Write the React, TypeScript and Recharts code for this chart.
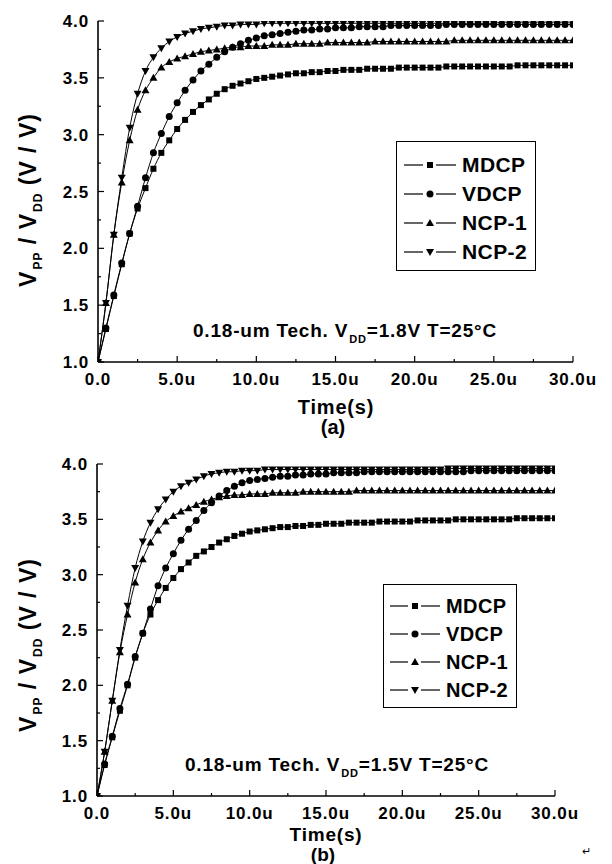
import { LineChart, Line, XAxis, YAxis, Legend } from "recharts";

// time axis, microseconds
const time = [
  0, 0.5, 1, 1.5, 2, 2.5, 3, 3.5, 4, 4.5, 5, 5.5, 6, 6.5, 7, 7.5, 8, 8.5, 9, 9.5, 10,
  10.5, 11, 11.5, 12, 12.5, 13, 13.5, 14, 14.5, 15, 15.5, 16, 16.5, 17, 17.5, 18, 18.5, 19, 19.5, 20,
  20.5, 21, 21.5, 22, 22.5, 23, 23.5, 24, 24.5, 25, 25.5, 26, 26.5, 27, 27.5, 28, 28.5, 29, 29.5, 30,
];

// (a) VDD = 1.8V
const mdcpA = [
  1.0, 1.29, 1.58, 1.86, 2.13, 2.35, 2.53, 2.7, 2.84, 2.95, 3.05, 3.13, 3.2, 3.26, 3.31, 3.36, 3.4, 3.43, 3.45, 3.47, 3.49,
  3.5, 3.51, 3.52, 3.53, 3.54, 3.54, 3.55, 3.55, 3.56, 3.56, 3.57, 3.57, 3.57, 3.58, 3.58, 3.58, 3.58, 3.59, 3.59, 3.59,
  3.59, 3.59, 3.59, 3.6, 3.6, 3.6, 3.6, 3.6, 3.6, 3.6, 3.6, 3.6, 3.61, 3.61, 3.61, 3.61, 3.61, 3.61, 3.61, 3.61,
];
const vdcpA = [
  1.0, 1.3, 1.59, 1.87, 2.13, 2.37, 2.62, 2.84, 3.01, 3.16, 3.28, 3.39, 3.48, 3.56, 3.62, 3.68, 3.73, 3.77, 3.8, 3.83, 3.85,
  3.87, 3.88, 3.89, 3.9, 3.91, 3.92, 3.92, 3.93, 3.93, 3.94, 3.94, 3.94, 3.95, 3.95, 3.95, 3.95, 3.96, 3.96, 3.96, 3.96,
  3.96, 3.96, 3.96, 3.97, 3.97, 3.97, 3.97, 3.97, 3.97, 3.97, 3.97, 3.97, 3.97, 3.97, 3.97, 3.97, 3.97, 3.97, 3.97, 3.97,
];
const ncp1A = [
  1.0, 1.52, 2.12, 2.58, 2.95, 3.22, 3.39, 3.5, 3.59, 3.64, 3.67, 3.69, 3.71, 3.73, 3.74, 3.75, 3.76, 3.77, 3.77, 3.78, 3.78,
  3.78, 3.79, 3.79, 3.79, 3.8, 3.8, 3.8, 3.8, 3.81, 3.81, 3.81, 3.81, 3.81, 3.81, 3.82, 3.82, 3.82, 3.82, 3.82, 3.82,
  3.82, 3.82, 3.82, 3.82, 3.83, 3.83, 3.83, 3.83, 3.83, 3.83, 3.83, 3.83, 3.83, 3.83, 3.83, 3.83, 3.83, 3.83, 3.83, 3.83,
];
const ncp2A = [
  1.0, 1.52, 2.12, 2.62, 3.06, 3.36, 3.56, 3.68, 3.76, 3.82, 3.86, 3.89, 3.91, 3.93, 3.94, 3.95, 3.96, 3.96, 3.97, 3.97, 3.97,
  3.98, 3.98, 3.98, 3.98, 3.98, 3.98, 3.98, 3.98, 3.98, 3.98, 3.98, 3.98, 3.98, 3.98, 3.98, 3.98, 3.98, 3.98, 3.98, 3.98,
  3.98, 3.98, 3.98, 3.98, 3.98, 3.98, 3.98, 3.98, 3.98, 3.98, 3.99, 3.99, 3.99, 3.99, 3.99, 3.99, 3.99, 3.99, 3.99, 3.99,
];

// (b) VDD = 1.5V
const mdcpB = [
  1.0, 1.28, 1.53, 1.77, 2.0, 2.25, 2.47, 2.64, 2.77, 2.88, 2.97, 3.05, 3.11, 3.17, 3.21, 3.25, 3.29, 3.32, 3.35, 3.37, 3.39,
  3.4, 3.41, 3.42, 3.43, 3.43, 3.44, 3.44, 3.45, 3.45, 3.46, 3.46, 3.46, 3.47, 3.47, 3.47, 3.47, 3.48, 3.48, 3.48, 3.48,
  3.48, 3.49, 3.49, 3.49, 3.49, 3.49, 3.5, 3.5, 3.5, 3.5, 3.5, 3.5, 3.5, 3.5, 3.51, 3.51, 3.51, 3.51, 3.51, 3.51,
];
const vdcpB = [
  1.0, 1.29, 1.54, 1.79, 2.01, 2.26, 2.47, 2.69, 2.9, 3.06, 3.19, 3.31, 3.41, 3.49, 3.58, 3.65, 3.71, 3.76, 3.8, 3.83, 3.85,
  3.86, 3.87, 3.88, 3.89, 3.89, 3.9, 3.9, 3.91, 3.91, 3.91, 3.92, 3.92, 3.92, 3.92, 3.93, 3.93, 3.93, 3.93, 3.93, 3.93,
  3.93, 3.93, 3.93, 3.93, 3.93, 3.93, 3.93, 3.93, 3.94, 3.94, 3.94, 3.94, 3.94, 3.94, 3.94, 3.94, 3.94, 3.94, 3.94, 3.94,
];
const ncp1B = [
  1.0, 1.4, 1.86, 2.3, 2.64, 2.93, 3.14, 3.29, 3.4, 3.48, 3.53, 3.57, 3.6, 3.63, 3.66, 3.68, 3.7, 3.71, 3.72, 3.72, 3.73,
  3.73, 3.73, 3.74, 3.74, 3.74, 3.74, 3.75, 3.75, 3.75, 3.75, 3.75, 3.75, 3.75, 3.76, 3.76, 3.76, 3.76, 3.76, 3.76, 3.76,
  3.76, 3.76, 3.76, 3.76, 3.76, 3.76, 3.76, 3.76, 3.76, 3.76, 3.76, 3.76, 3.76, 3.76, 3.76, 3.76, 3.76, 3.76, 3.76, 3.76,
];
const ncp2B = [
  1.0, 1.4, 1.86, 2.32, 2.72, 3.06, 3.3, 3.47, 3.59, 3.68, 3.75, 3.8, 3.83, 3.86, 3.89, 3.91, 3.92, 3.93, 3.93, 3.94, 3.94,
  3.94, 3.95, 3.95, 3.95, 3.95, 3.95, 3.95, 3.95, 3.95, 3.95, 3.95, 3.95, 3.95, 3.95, 3.95, 3.95, 3.95, 3.95, 3.95, 3.95,
  3.95, 3.95, 3.95, 3.95, 3.95, 3.96, 3.96, 3.96, 3.96, 3.96, 3.96, 3.96, 3.96, 3.96, 3.96, 3.96, 3.96, 3.96, 3.96, 3.96,
];

const seriesNames = ["MDCP", "VDCP", "NCP-1", "NCP-2"];
const seriesKeys = ["mdcp", "vdcp", "ncp1", "ncp2"];
const shapes = ["square", "circle", "up", "down"];

const xTicks = [0, 2.5, 5, 7.5, 10, 12.5, 15, 17.5, 20, 22.5, 25, 27.5, 30];
const yTicks = [1, 1.25, 1.5, 1.75, 2, 2.25, 2.5, 2.75, 3, 3.25, 3.5, 3.75, 4];

const FONT = "'Liberation Sans', Arial, sans-serif";

const buildRows = (cols: number[][]) =>
  time.map((t, i) => ({ t, mdcp: cols[0][i], vdcp: cols[1][i], ncp1: cols[2][i], ncp2: cols[3][i] }));

const rowsA = buildRows([mdcpA, vdcpA, ncp1A, ncp2A]);
const rowsB = buildRows([mdcpB, vdcpB, ncp1B, ncp2B]);

const Marker = ({ shape, cx, cy, s = 7 }: any) => {
  const h = s / 2;
  if (cx == null || cy == null) return null;
  if (shape === "square") return <rect x={cx - h + 0.5} y={cy - h + 0.5} width={s - 1} height={s - 1} fill="#000" />;
  if (shape === "circle") return <circle cx={cx} cy={cy} r={h} fill="#000" />;
  if (shape === "up")
    return <polygon points={`${cx},${cy - h - 0.5} ${cx + h + 0.5},${cy + h - 0.5} ${cx - h - 0.5},${cy + h - 0.5}`} fill="#000" />;
  return <polygon points={`${cx},${cy + h + 0.5} ${cx + h + 0.5},${cy - h + 0.5} ${cx - h - 0.5},${cy - h + 0.5}`} fill="#000" />;
};

const tickText = { fontFamily: FONT, fontWeight: 700, fontSize: 17, letterSpacing: 0.9, fill: "#000" };

const BottomTick = ({ x, y, payload }: any) => {
  const v = payload.value;
  const major = v % 5 === 0;
  return (
    <g>
      <line x1={x} x2={x} y1={y} y2={y - (major ? 6 : 3)} stroke="#000" strokeWidth={1.2} />
      {major && (
        <text x={x} y={y + 23} textAnchor="middle" style={tickText}>
          {v === 0 ? "0.0" : `${v.toFixed(1)}u`}
        </text>
      )}
    </g>
  );
};

const TopTick = ({ x, y, payload }: any) => {
  const major = payload.value % 5 === 0;
  return <line x1={x} x2={x} y1={y} y2={y + (major ? 6 : 3)} stroke="#000" strokeWidth={1.2} />;
};

const LeftTick = ({ x, y, payload }: any) => {
  const v = payload.value;
  const major = Math.abs(v * 2 - Math.round(v * 2)) < 1e-6;
  return (
    <g>
      <line x1={x} x2={x + (major ? 6 : 3)} y1={y} y2={y} stroke="#000" strokeWidth={1.2} />
      {major && (
        <text x={x - 9} y={y + 6} textAnchor="end" style={tickText}>
          {v.toFixed(1)}
        </text>
      )}
    </g>
  );
};

const RightTick = ({ x, y, payload }: any) => {
  const v = payload.value;
  const major = Math.abs(v * 2 - Math.round(v * 2)) < 1e-6;
  return <line x1={x} x2={x - (major ? 6 : 3)} y1={y} y2={y} stroke="#000" strokeWidth={1.2} />;
};

const LegendBox = ({ rowH, padTop, padLeft, lineW, fontSize }: any) => (
  <div
    style={{
      border: "1.5px solid #000",
      background: "#fff",
      padding: `${padTop}px 2px 2px ${padLeft}px`,
      boxSizing: "border-box",
      height: "100%",
    }}
  >
    {seriesNames.map((n, i) => (
      <div key={n} style={{ display: "flex", alignItems: "center", height: rowH, whiteSpace: "nowrap" }}>
        <svg width={lineW} height={14} style={{ flex: "none" }}>
          <line x1={0} x2={lineW / 2 - 7} y1={7} y2={7} stroke="#000" strokeWidth={1.2} />
          <line x1={lineW / 2 + 6} x2={lineW} y1={7} y2={7} stroke="#000" strokeWidth={1.2} />
          <Marker shape={shapes[i]} cx={lineW / 2} cy={7} s={7} />
        </svg>
        <span style={{ marginLeft: 6, fontFamily: FONT, fontWeight: 700, fontSize, letterSpacing: 0.4, lineHeight: 1 }}>{n}</span>
      </div>
    ))}
  </div>
);

const Panel = ({ rows, width, height, margin, yWidth, xHeight, legend }: any) => (
  <LineChart width={width} height={height} data={rows} margin={margin}>
    <XAxis
      dataKey="t"
      type="number"
      domain={[0, 30]}
      ticks={xTicks}
      allowDataOverflow
      height={xHeight}
      tickSize={0}
      tickMargin={0}
      tickLine={false}
      interval={0}
      axisLine={{ stroke: "#000", strokeWidth: 1.6 }}
      tick={<BottomTick />}
    />
    <XAxis
      xAxisId="top"
      orientation="top"
      type="number"
      domain={[0, 30]}
      ticks={xTicks}
      allowDataOverflow
      height={0}
      tickSize={0}
      tickMargin={0}
      tickLine={false}
      interval={0}
      axisLine={{ stroke: "#000", strokeWidth: 1.6 }}
      tick={<TopTick />}
    />
    <YAxis
      type="number"
      domain={[1, 4]}
      ticks={yTicks}
      allowDataOverflow
      width={yWidth}
      tickSize={0}
      tickMargin={0}
      tickLine={false}
      interval={0}
      axisLine={{ stroke: "#000", strokeWidth: 1.6 }}
      tick={<LeftTick />}
    />
    <YAxis
      yAxisId="right"
      orientation="right"
      type="number"
      domain={[1, 4]}
      ticks={yTicks}
      allowDataOverflow
      width={0}
      tickSize={0}
      tickMargin={0}
      tickLine={false}
      interval={0}
      axisLine={{ stroke: "#000", strokeWidth: 1.6 }}
      tick={<RightTick />}
    />
    <Legend
      layout="vertical"
      align="center"
      verticalAlign="middle"
      wrapperStyle={{ left: legend.left, top: legend.top, width: legend.width, height: legend.height }}
      content={() => (
        <div style={{ width: legend.width, height: legend.height }}>
          <LegendBox
            rowH={legend.rowH}
            padTop={legend.padTop}
            padLeft={legend.padLeft}
            lineW={legend.lineW}
            fontSize={legend.fontSize}
          />
        </div>
      )}
    />
    {seriesKeys.map((k, i) => (
      <Line
        key={k}
        dataKey={k}
        name={seriesNames[i]}
        type="monotone"
        stroke="#000"
        strokeWidth={1}
        isAnimationActive={false}
        dot={(p: any) => <Marker key={`${k}-${p.index}`} shape={shapes[i]} cx={p.cx} cy={p.cy} s={7} />}
        activeDot={false}
      />
    ))}
  </LineChart>
);

const abs = (left: number, top: number, extra: any = {}) => ({
  position: "absolute" as const,
  left,
  top,
  fontFamily: FONT,
  fontWeight: 700,
  color: "#000",
  whiteSpace: "nowrap" as const,
  lineHeight: 1,
  ...extra,
});

const sub = { fontSize: 12, position: "relative" as const, top: 6, marginLeft: 1 };

const YLabel = ({ cx, cy }: any) => (
  <div style={abs(cx, cy, { fontSize: 23, letterSpacing: 1, transform: "translate(-50%, -50%) rotate(-90deg)" })}>
    V<span style={sub}>PP</span> / V<span style={sub}>DD</span> (V / V)
  </div>
);

const Note = ({ left, top, vdd }: any) => (
  <div style={abs(left, top, { fontSize: 19, letterSpacing: 0.8 })}>
    0.18-um Tech. V<span style={{ ...sub, fontSize: 11 }}>DD</span>={vdd} T=25°C
  </div>
);

export default function App() {
  return (
    <div style={{ position: "absolute", left: 0, top: 0, width: 612, height: 864, background: "#fff", overflow: "hidden" }}>
      <div style={{ position: "absolute", left: 0, top: 0 }}>
        <Panel
          rows={rowsA}
          width={612}
          height={440}
          margin={{ top: 21, right: 39, left: 0, bottom: 48 }}
          yWidth={98}
          xHeight={30}
          legend={{ left: 396, top: 141, width: 140, height: 130, rowH: 29, padTop: 8, padLeft: 7, lineW: 52, fontSize: 21 }}
        />
      </div>
      <div style={{ position: "absolute", left: 0, top: 440 }}>
        <Panel
          rows={rowsB}
          width={612}
          height={424}
          margin={{ top: 24, right: 57, left: 0, bottom: 38 }}
          yWidth={97}
          xHeight={30}
          legend={{ left: 383, top: 144, width: 134, height: 124, rowH: 28, padTop: 7, padLeft: 6, lineW: 50, fontSize: 20 }}
        />
      </div>

      <YLabel cx={28} cy={200} />
      <YLabel cx={28} cy={645} />

      <Note left={193} top={321} vdd="1.8V" />
      <Note left={185} top={755} vdd="1.5V" />

      <div style={abs(336, 397, { fontSize: 20, letterSpacing: 0.8, transform: "translateX(-50%)" })}>Time(s)</div>
      <div style={abs(333, 417, { fontSize: 20, transform: "translateX(-50%)" })}>(a)</div>
      <div style={abs(326, 825, { fontSize: 19, letterSpacing: 0.8, transform: "translateX(-50%)" })}>Time(s)</div>
      <div style={abs(323, 845, { fontSize: 19, transform: "translateX(-50%)" })}>(b)</div>
      <div style={abs(582, 846, { fontSize: 11, fontWeight: 400 })}>↵</div>
    </div>
  );
}
